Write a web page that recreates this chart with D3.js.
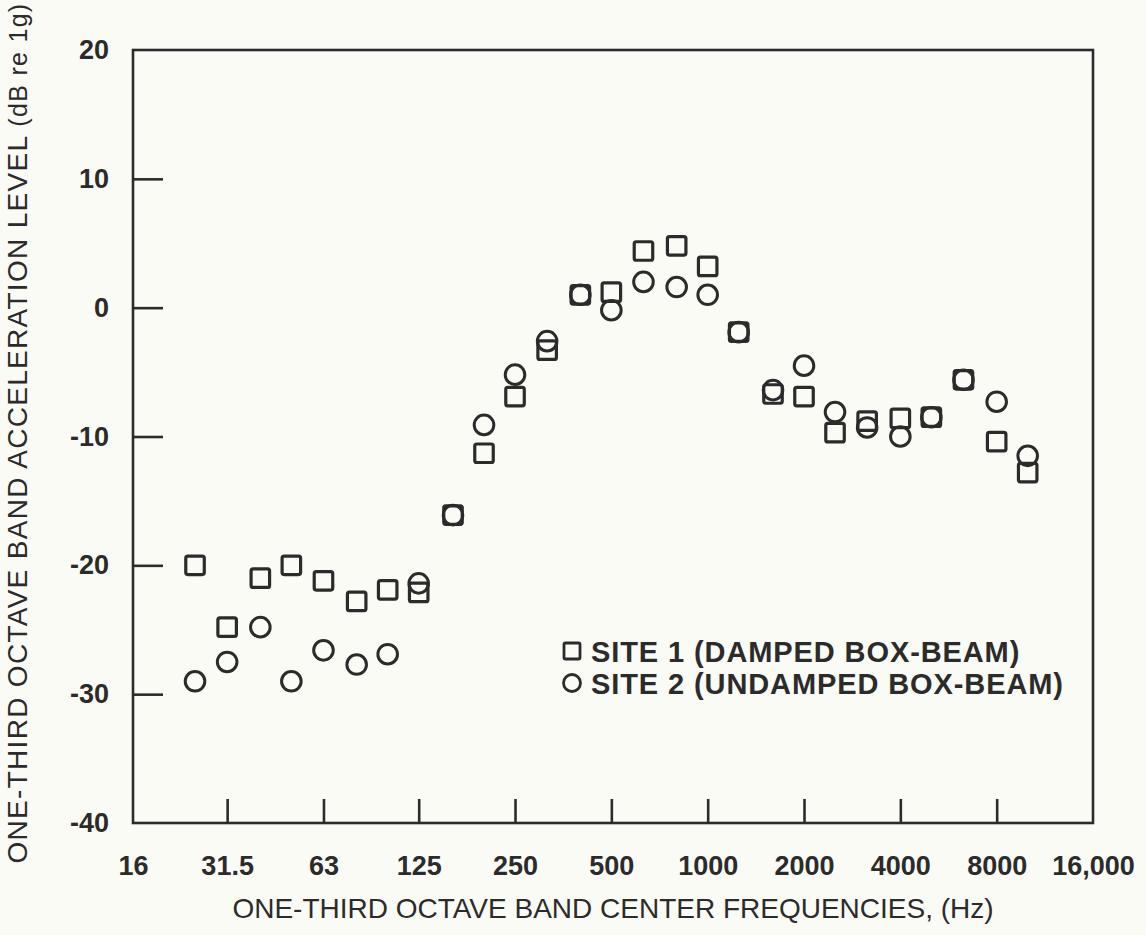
<!DOCTYPE html>
<html lang="en">
<head>
    <meta charset="UTF-8">
    <title>Acceleration level</title>
    <script src="https://cdn.jsdelivr.net/npm/d3@7/dist/d3.min.js"></script>
    <style>
        body { margin: 0; background: #fbfbf6; }
        text { font-family: "Liberation Sans", Arial, sans-serif; fill: #2b2b2b; }
    </style>
</head>
<body>

<script>

    // one-third octave band centers (Hz)
    const bands = [25, 31.5, 40, 50, 63, 80, 100, 125, 160, 200, 250, 315, 400, 500, 630,
        800, 1000, 1250, 1600, 2000, 2500, 3150, 4000, 5000, 6300, 8000, 10000];
    const site1 = [-20.0, -24.8, -21.0, -20.0, -21.2, -22.8, -21.9, -22.1, -16.1, -11.3, -6.9, -3.3, 1.0, 1.2, 4.4,
        4.8, 3.2, -1.9, -6.7, -6.9, -9.7, -8.8, -8.6, -8.5, -5.6, -10.4, -12.8];
    const site2 = [-29.0, -27.5, -24.8, -29.0, -26.6, -27.7, -26.9, -21.4, -16.1, -9.1, -5.2, -2.6, 1.0, -0.2, 2.0,
        1.6, 1.0, -1.9, -6.4, -4.5, -8.1, -9.3, -10.0, -8.5, -5.6, -7.3, -11.5];

    const xTicks = [16, 31.5, 63, 125, 250, 500, 1000, 2000, 4000, 8000, 16000];
    const xTickLabels = ["16", "31.5", "63", "125", "250", "500", "1000", "2000", "4000", "8000", "16,000"];
    const yTicks = [-40, -30, -20, -10, 0, 10, 20];

    const W = 1146, H = 935;
    const margin = {top: 50, right: 53, bottom: 112, left: 133};
    const ink = "#2b2b2b";
    const font = "'Liberation Sans', Arial, sans-serif";

    const svg = d3.select("body").append("svg").attr("width", W).attr("height", H);

    const x = d3.scaleLog()
        .domain([16, 16000])
        .range([margin.left, W - margin.right]);
    const y = d3.scaleLinear()
        .domain([-40, 20])
        .range([H - margin.bottom, margin.top]);

    // frame
    svg.append("rect")
        .attr("x", x(16)).attr("y", y(20))
        .attr("width", x(16000) - x(16)).attr("height", y(-40) - y(20))
        .attr("fill", "none").attr("stroke", ink).attr("stroke-width", 2.6);

    const yAxis = g => g
        .attr("transform", `translate(${margin.left},0)`)
        .call(d3.axisLeft(y).tickValues(yTicks).tickSize(-30).tickPadding(24)
            .tickFormat(d => d < 0 ? "-" + Math.abs(d) : d))
        .call(g => g.select(".domain").remove())
        .call(g => g.selectAll(".tick line").attr("stroke", ink).attr("stroke-width", 2.6)
            .filter(d => d === 20 || d === -40).remove())
        .call(g => g.selectAll(".tick text").attr("font-size", 27).attr("font-weight", "bold")
            .attr("fill", ink).style("font-family", font));

    const xAxis = g => g
        .attr("transform", `translate(0,${H - margin.bottom})`)
        .call(d3.axisBottom(x).tickValues(xTicks).tickSize(-24).tickPadding(33)
            .tickFormat((d, i) => xTickLabels[i]))
        .call(g => g.select(".domain").remove())
        .call(g => g.selectAll(".tick line").attr("stroke", ink).attr("stroke-width", 2.6)
            .filter(d => d === 16 || d === 16000).remove())
        .call(g => g.selectAll(".tick text").attr("font-size", 27).attr("font-weight", "bold")
            .attr("fill", ink).style("font-family", font));

    svg.append("g").call(yAxis);
    svg.append("g").call(xAxis);

    // markers
    const sq = 18.5, r = 9.8;
    svg.append("g")
        .selectAll("rect")
        .data(bands.map((f, i) => [f, site1[i]]))
        .join("rect")
        .attr("x", d => x(d[0]) - sq / 2)
        .attr("y", d => y(d[1]) - sq / 2)
        .attr("width", sq).attr("height", sq).attr("rx", 2)
        .attr("fill", "none").attr("stroke", ink).attr("stroke-width", 3.2);

    svg.append("g")
        .selectAll("circle")
        .data(bands.map((f, i) => [f, site2[i]]))
        .join("circle")
        .attr("cx", d => x(d[0]))
        .attr("cy", d => y(d[1]))
        .attr("r", r)
        .attr("fill", "none").attr("stroke", ink).attr("stroke-width", 3);

    // legend
    const legend = svg.append("g").attr("transform", "translate(572,651)");
    legend.append("rect").attr("x", -8).attr("y", -8).attr("width", 16).attr("height", 16).attr("rx", 1.5)
        .attr("fill", "none").attr("stroke", ink).attr("stroke-width", 2.8);
    legend.append("text").attr("x", 19).attr("y", 10.5)
        .attr("font-size", 29).attr("font-weight", "bold").attr("letter-spacing", 0.9)
        .text("SITE 1 (DAMPED BOX-BEAM)");
    legend.append("circle").attr("cx", 0).attr("cy", 32).attr("r", 8.5)
        .attr("fill", "none").attr("stroke", ink).attr("stroke-width", 2.8);
    legend.append("text").attr("x", 19).attr("y", 42.5)
        .attr("font-size", 29).attr("font-weight", "bold").attr("letter-spacing", 0.9)
        .text("SITE 2 (UNDAMPED BOX-BEAM)");

    // axis titles
    svg.append("text")
        .attr("x", (x(16) + x(16000)) / 2).attr("y", 918)
        .attr("text-anchor", "middle").attr("font-size", 28)
        .text("ONE-THIRD OCTAVE BAND CENTER FREQUENCIES, (Hz)");

    const yt = svg.append("text")
        .attr("transform", "translate(27,433) rotate(-90)")
        .attr("text-anchor", "middle").attr("font-size", 28)
        .attr("letter-spacing", 1.3);
    yt.append("tspan").text("ONE-THIRD OCTAVE BAND ACCELERATION LEVEL ");
    yt.append("tspan").attr("font-size", 25).text("(dB re 1g)");

</script>

</body>
</html>
